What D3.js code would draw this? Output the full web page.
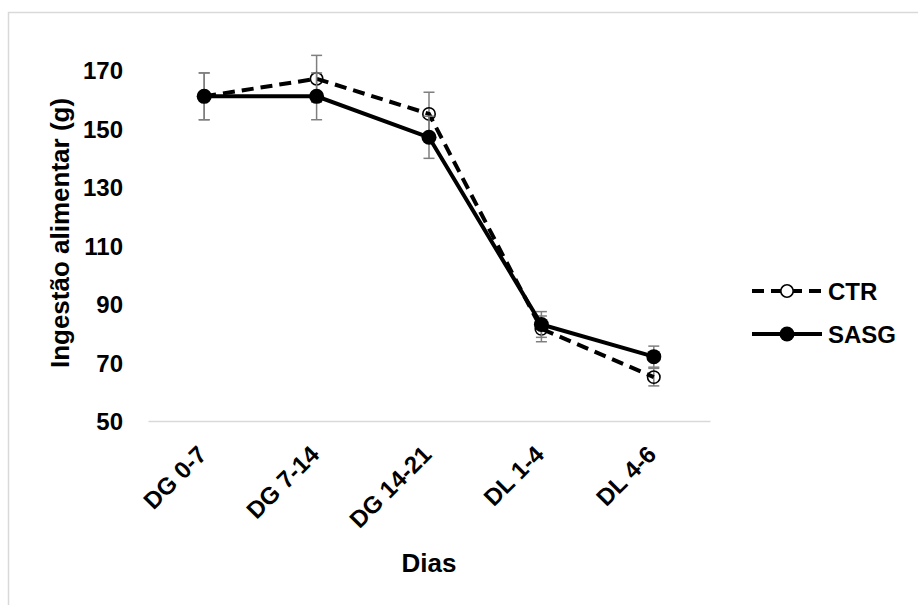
<!DOCTYPE html>
<html>
<head>
<meta charset="utf-8">
<script src="https://cdn.jsdelivr.net/npm/d3@7"></script>
<style>
  html, body { margin: 0; padding: 0; background: #fff; }
  svg { display: block; }
  text { font-family: "Liberation Sans", Arial, sans-serif; font-weight: bold; fill: #000; }
</style>
</head>
<body>
<svg id="chart" width="918" height="605"></svg>
<script>
// Food intake per period, two groups (mean ± error)
const categories = ["DG 0-7", "DG 7-14", "DG 14-21", "DL 1-4", "DL 4-6"];
const ctrValues  = [161, 167, 155, 81.5, 65];
const ctrErrors  = [8, 8, 7.4, 4.4, 3];
const sasgValues = [161, 161, 147, 83, 72];
const sasgErrors = [8, 8, 7.2, 4.4, 3.6];
const yTicks = [50, 70, 90, 110, 130, 150, 170];
const seriesNames = ["CTR", "SASG"];

const svg = d3.select("#chart");

// outer chart border
svg.append("rect")
  .attr("x", 8.5).attr("y", 12.5)
  .attr("width", 1000).attr("height", 1000)
  .attr("fill", "none").attr("stroke", "#d9d9d9").attr("stroke-width", 1.5);

const plot = { left: 148, right: 710, top: 70, bottom: 421 };

const x = d3.scaleBand().domain(categories).range([plot.left, plot.right]);
const cx = c => x(c) + x.bandwidth() / 2;
const y = d3.scaleLinear().domain([50, 170]).range([plot.bottom, plot.top]);

// y axis (labels only)
const yAxis = svg.append("g")
  .attr("transform", `translate(${plot.left},0)`)
  .call(d3.axisLeft(y).tickValues(yTicks).tickSize(0).tickPadding(25));
yAxis.select(".domain").remove();
yAxis.selectAll("text")
  .attr("font-size", 24)
  .attr("font-family", null)
  .attr("dy", "0.36em");

// x axis baseline; category labels drawn rotated below
const xAxis = svg.append("g")
  .attr("transform", `translate(0,${plot.bottom})`)
  .call(d3.axisBottom(x).tickSize(0).tickSizeOuter(0));
xAxis.select(".domain").attr("stroke", "#d9d9d9").attr("stroke-width", 1.5);
xAxis.selectAll(".tick text").remove();

svg.append("g").selectAll("text")
  .data(categories)
  .join("text")
  .attr("x", d => cx(d) + 4)
  .attr("y", plot.bottom + 35)
  .attr("text-anchor", "end")
  .attr("font-size", 24)
  .attr("transform", d => `rotate(-45 ${cx(d) + 4} ${plot.bottom + 35})`)
  .text(d => d);

// axis titles
svg.append("text")
  .attr("x", 429).attr("y", 572)
  .attr("text-anchor", "middle")
  .attr("font-size", 26)
  .text("Dias");

svg.append("text")
  .attr("transform", "translate(69,233) rotate(-90)")
  .attr("text-anchor", "middle")
  .attr("font-size", 26)
  .text("Ingestão alimentar (g)");

const series = [
  { name: seriesNames[0], values: ctrValues, errors: ctrErrors, dash: "12,7", filled: false },
  { name: seriesNames[1], values: sasgValues, errors: sasgErrors, dash: null, filled: true }
];

const line = d3.line().x((d, i) => cx(categories[i])).y(d => y(d));

series.forEach(s => {
  const g = svg.append("g");
  // error bars
  const eb = g.append("g").attr("stroke", "#7f7f7f").attr("stroke-width", 1.5);
  s.values.forEach((v, i) => {
    const px = cx(categories[i]);
    const hi = y(v + s.errors[i]), lo = y(v - s.errors[i]);
    eb.append("line").attr("x1", px).attr("x2", px).attr("y1", hi).attr("y2", lo);
    eb.append("line").attr("x1", px - 5.5).attr("x2", px + 5.5).attr("y1", hi).attr("y2", hi);
    eb.append("line").attr("x1", px - 5.5).attr("x2", px + 5.5).attr("y1", lo).attr("y2", lo);
  });
  // line
  g.append("path")
    .datum(s.values)
    .attr("d", line)
    .attr("fill", "none")
    .attr("stroke", "#000")
    .attr("stroke-width", 4)
    .attr("stroke-dasharray", s.dash);
  // markers
  g.selectAll("circle.m")
    .data(s.values)
    .join("circle")
    .attr("class", "m")
    .attr("cx", (d, i) => cx(categories[i]))
    .attr("cy", d => y(d))
    .attr("r", s.filled ? 7.5 : 6.2)
    .attr("fill", s.filled ? "#000" : "none")
    .attr("stroke", "#000")
    .attr("stroke-width", s.filled ? 0 : 1.6);
});

// legend
const legend = svg.append("g");
series.forEach((s, i) => {
  const ly = 291 + i * 43;
  legend.append("line")
    .attr("x1", 752).attr("x2", 822).attr("y1", ly).attr("y2", ly)
    .attr("stroke", "#000").attr("stroke-width", 4)
    .attr("stroke-dasharray", s.dash);
  legend.append("circle")
    .attr("cx", 787).attr("cy", ly)
    .attr("r", s.filled ? 7.5 : 6.2)
    .attr("fill", s.filled ? "#000" : "#fff")
    .attr("stroke", "#000")
    .attr("stroke-width", s.filled ? 0 : 1.6);
  legend.append("text")
    .attr("x", 828).attr("y", ly)
    .attr("dy", "0.36em")
    .attr("font-size", 24)
    .text(s.name);
});
</script>
</body>
</html>
